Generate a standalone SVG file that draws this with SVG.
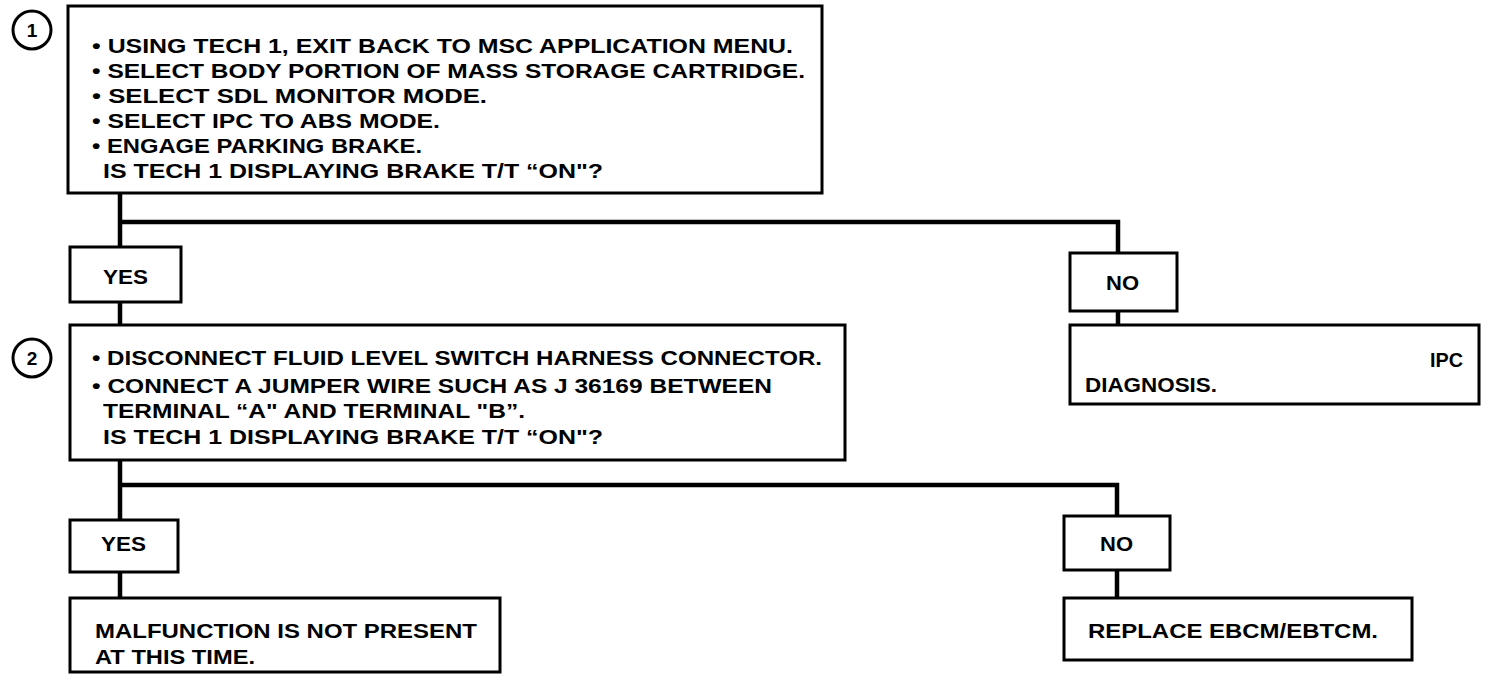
<svg xmlns="http://www.w3.org/2000/svg" width="1504" height="680" viewBox="0 0 1504 680">
<style>
.box{fill:#fff;stroke:#000;stroke-width:3}
.num{fill:#fff;stroke:#000;stroke-width:3}
.t{font-family:"Liberation Sans",Arial,sans-serif;font-weight:bold;font-size:21px;fill:#000}
.n{font-family:"Liberation Sans",Arial,sans-serif;font-weight:bold;font-size:19px;fill:#000;text-anchor:middle}
.c{fill:none;stroke:#000;stroke-width:4.5}
</style>
<rect width="1504" height="680" fill="#fff"/>
<g id="connectors">
<polyline class="c" points="120,193 120,247"/>
<polyline class="c" points="120,222 1118,222 1118,253"/>
<polyline class="c" points="120,302 120,325"/>
<polyline class="c" points="1118,311 1118,325"/>
<polyline class="c" points="120,460 120,520"/>
<polyline class="c" points="120,485 1117,485 1117,516"/>
<polyline class="c" points="120,572 120,598"/>
<polyline class="c" points="1117,570 1117,598"/>
</g>
<g id="step1">
<circle class="num" cx="32" cy="30" r="19"/>
<text class="n" x="32" y="37">1</text>
<rect class="box" x="68" y="6" width="754" height="187"/>
<text class="t" x="92" y="53" textLength="701" lengthAdjust="spacingAndGlyphs">• USING TECH 1, EXIT BACK TO MSC APPLICATION MENU.</text>
<text class="t" x="92" y="78" textLength="713" lengthAdjust="spacingAndGlyphs">• SELECT BODY PORTION OF MASS STORAGE CARTRIDGE.</text>
<text class="t" x="92" y="103" textLength="395" lengthAdjust="spacingAndGlyphs">• SELECT SDL MONITOR MODE.</text>
<text class="t" x="92" y="128" textLength="348" lengthAdjust="spacingAndGlyphs">• SELECT IPC TO ABS MODE.</text>
<text class="t" x="92" y="153" textLength="330" lengthAdjust="spacingAndGlyphs">• ENGAGE PARKING BRAKE.</text>
<text class="t" x="103" y="178" textLength="500" lengthAdjust="spacingAndGlyphs">IS TECH 1 DISPLAYING BRAKE T/T “ON"?</text>
</g>
<g id="yes1">
<rect class="box" x="70" y="247" width="111" height="55"/>
<text class="t" x="103" y="284" textLength="45" lengthAdjust="spacingAndGlyphs">YES</text>
</g>
<g id="no1">
<rect class="box" x="1070" y="253" width="107" height="58"/>
<text class="t" x="1106" y="290" textLength="33" lengthAdjust="spacingAndGlyphs">NO</text>
</g>
<g id="ipc">
<rect class="box" x="1070" y="325" width="409" height="79"/>
<text class="t" x="1430" y="367" textLength="33" lengthAdjust="spacingAndGlyphs">IPC</text>
<text class="t" x="1085" y="392" textLength="132" lengthAdjust="spacingAndGlyphs">DIAGNOSIS.</text>
</g>
<g id="step2">
<circle class="num" cx="32" cy="358" r="19"/>
<text class="n" x="32" y="365">2</text>
<rect class="box" x="70" y="325" width="775" height="135"/>
<text class="t" x="92" y="365" textLength="730" lengthAdjust="spacingAndGlyphs">• DISCONNECT FLUID LEVEL SWITCH HARNESS CONNECTOR.</text>
<text class="t" x="92" y="393" textLength="680" lengthAdjust="spacingAndGlyphs">• CONNECT A JUMPER WIRE SUCH AS J 36169 BETWEEN</text>
<text class="t" x="103" y="418" textLength="422" lengthAdjust="spacingAndGlyphs">TERMINAL “A" AND TERMINAL "B”.</text>
<text class="t" x="103" y="444" textLength="500" lengthAdjust="spacingAndGlyphs">IS TECH 1 DISPLAYING BRAKE T/T “ON"?</text>
</g>
<g id="yes2">
<rect class="box" x="70" y="520" width="108" height="52"/>
<text class="t" x="101" y="551" textLength="45" lengthAdjust="spacingAndGlyphs">YES</text>
</g>
<g id="no2">
<rect class="box" x="1064" y="516" width="106" height="54"/>
<text class="t" x="1100" y="551" textLength="33" lengthAdjust="spacingAndGlyphs">NO</text>
</g>
<g id="malfunction">
<rect class="box" x="70" y="598" width="430" height="74"/>
<text class="t" x="95" y="638" textLength="382" lengthAdjust="spacingAndGlyphs">MALFUNCTION IS NOT PRESENT</text>
<text class="t" x="95" y="664" textLength="160" lengthAdjust="spacingAndGlyphs">AT THIS TIME.</text>
</g>
<g id="replace">
<rect class="box" x="1064" y="598" width="348" height="62"/>
<text class="t" x="1088" y="638" textLength="290" lengthAdjust="spacingAndGlyphs">REPLACE EBCM/EBTCM.</text>
</g>
</svg>
